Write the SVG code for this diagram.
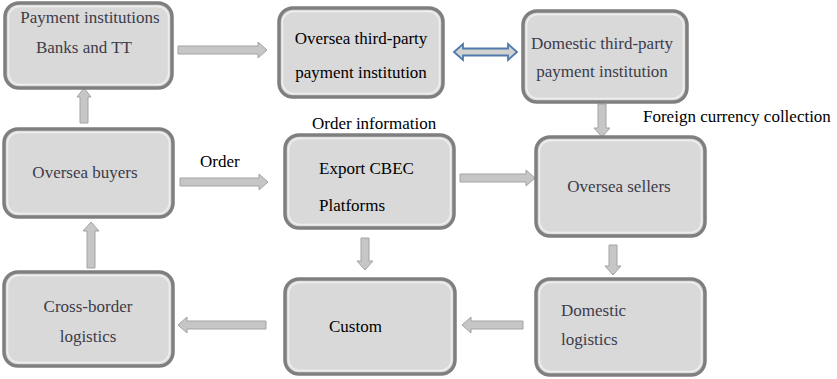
<svg xmlns="http://www.w3.org/2000/svg" width="837" height="379" viewBox="0 0 837 379">
  <style>
    .box { fill: #d9d9d9; stroke: #7f7f7f; stroke-width: 3.5; }
    .bevel { fill: none; stroke: #f4f4f4; stroke-width: 1.5; opacity: 0.8; }
    text { font-family: 'Liberation Serif', 'DejaVu Serif', serif; font-size: 17px; }
    .soft { fill: #3c3c4a; }
    .dark { fill: #000; }
    .mid { text-anchor: middle; }
    .arr { fill: #c6c6c6; stroke: #a3a3a3; stroke-width: 1; }
    .dbl { fill: #d2d2d2; stroke: #4f7bab; stroke-width: 1.8; }
  </style>

  <g id="connectors">
    <!-- Payment institutions -> Oversea third-party -->
    <path class="arr" d="M178,46 H258 V42 L267,50 L258,58 V54 H178 Z"/>
    <!-- Oversea buyers -> Payment institutions -->
    <path class="arr" d="M80,123 V97 H77 L84,88 L91,97 H88 V123 Z"/>
    <!-- Oversea buyers -> Export CBEC -->
    <path class="arr" d="M180,178 H259 V174 L268,182 L259,190 V186 H180 Z"/>
    <!-- Export CBEC -> Oversea sellers -->
    <path class="arr" d="M460,174 H526 V170 L535,178 L526,186 V182 H460 Z"/>
    <!-- Domestic third-party -> Oversea sellers -->
    <path class="arr" d="M598,104 V128 H594 L602,137 L610,128 H606 V104 Z"/>
    <!-- Oversea sellers -> Domestic logistics -->
    <path class="arr" d="M609,245 V266 H605 L613,275 L621,266 H617 V245 Z"/>
    <!-- Export CBEC -> Custom -->
    <path class="arr" d="M361,238 V261 H357 L365,270 L373,261 H369 V238 Z"/>
    <!-- Domestic logistics -> Custom -->
    <path class="arr" d="M523,321 H471 V317 L462,325 L471,333 V329 H523 Z"/>
    <!-- Custom -> Cross-border logistics -->
    <path class="arr" d="M266,321 H187 V317 L178,325 L187,333 V329 H266 Z"/>
    <!-- Cross-border logistics -> Oversea buyers -->
    <path class="arr" d="M87,268 V231 H83 L91,222 L99,231 H95 V268 Z"/>
    <!-- Two-way link between the third-party payment institutions -->
    <path class="dbl" d="M454,52 L463,44 V48.5 H508 V44 L517,52 L508,60 V55.5 H463 V60 Z"/>
  </g>

  <g id="payment-institutions">
    <rect class="box" x="5" y="3" width="167" height="85" rx="14"/>
    <rect class="bevel" x="8.5" y="6.5" width="160" height="78" rx="11"/>
    <text class="soft mid" x="90" y="23">Payment institutions</text>
    <text class="soft mid" x="84" y="53">Banks and TT</text>
  </g>

  <g id="oversea-third-party">
    <rect class="box" x="279" y="8" width="164" height="89" rx="14"/>
    <rect class="bevel" x="282.5" y="11.5" width="157" height="82" rx="11"/>
    <text class="dark mid" x="361" y="44">Oversea third-party</text>
    <text class="dark mid" x="361" y="78">payment institution</text>
  </g>

  <g id="domestic-third-party">
    <rect class="box" x="523" y="11" width="164" height="91" rx="14"/>
    <rect class="bevel" x="526.5" y="14.5" width="157" height="84" rx="11"/>
    <text class="soft mid" x="602" y="49">Domestic third-party</text>
    <text class="soft mid" x="602" y="77">payment institution</text>
  </g>

  <g id="oversea-buyers">
    <rect class="box" x="4" y="129" width="169" height="88" rx="14"/>
    <rect class="bevel" x="7.5" y="132.5" width="162" height="81" rx="11"/>
    <text class="soft mid" x="85" y="178">Oversea buyers</text>
  </g>

  <g id="export-cbec">
    <rect class="box" x="285" y="135" width="169" height="93" rx="14"/>
    <rect class="bevel" x="288.5" y="138.5" width="162" height="86" rx="11"/>
    <text class="dark" x="319" y="174">Export CBEC</text>
    <text class="dark" x="319" y="211">Platforms</text>
  </g>

  <g id="oversea-sellers">
    <rect class="box" x="536" y="137" width="169" height="99" rx="14"/>
    <rect class="bevel" x="539.5" y="140.5" width="162" height="92" rx="11"/>
    <text class="soft mid" x="619" y="192">Oversea sellers</text>
  </g>

  <g id="domestic-logistics">
    <rect class="box" x="536" y="279" width="169" height="96" rx="14"/>
    <rect class="bevel" x="539.5" y="282.5" width="162" height="89" rx="11"/>
    <text class="soft" x="561" y="316">Domestic</text>
    <text class="soft" x="561" y="345">logistics</text>
  </g>

  <g id="custom">
    <rect class="box" x="285" y="279" width="170" height="95" rx="14"/>
    <rect class="bevel" x="288.5" y="282.5" width="163" height="88" rx="11"/>
    <text class="dark" x="329" y="332">Custom</text>
  </g>

  <g id="cross-border-logistics">
    <rect class="box" x="4" y="272" width="169" height="94" rx="14"/>
    <rect class="bevel" x="7.5" y="275.5" width="162" height="87" rx="11"/>
    <text class="soft mid" x="88" y="312">Cross-border</text>
    <text class="soft mid" x="88" y="342">logistics</text>
  </g>

  <g id="labels">
    <text class="dark" x="200" y="167">Order</text>
    <text class="dark" x="312" y="129">Order information</text>
    <text class="dark" x="643" y="122">Foreign currency collection</text>
  </g>
</svg>
